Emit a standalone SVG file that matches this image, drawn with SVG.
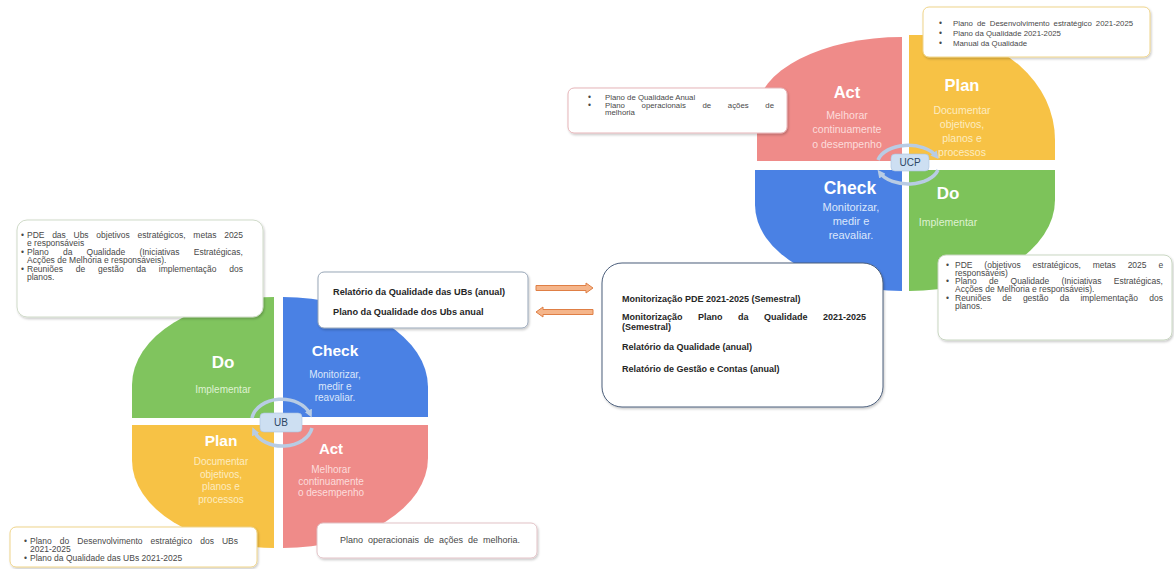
<svg xmlns="http://www.w3.org/2000/svg" width="1174" height="569" viewBox="0 0 1174 569">
<defs>
<style>
.title{font-family:"Liberation Sans",Arial,sans-serif;font-weight:bold;fill:#ffffff;text-anchor:middle}
.desc{font-family:"Liberation Sans",Arial,sans-serif;text-anchor:middle}
.box{fill:#ffffff;stroke-width:1}
.bl{font-family:"Liberation Sans",Arial,sans-serif;font-size:8.5px;fill:#484848}
.bd{font-family:"Liberation Sans",Arial,sans-serif;font-weight:bold;fill:#262626}
.cyc{fill:none;stroke:#b8cce4;stroke-width:3.5}
.lbl{fill:#cddff2;stroke:#aac3df;stroke-width:0.6}
.lt{font-family:"Liberation Sans",Arial,sans-serif;font-size:10px;fill:#2c4664;text-anchor:middle}
.oarr{fill:#f5b58a;stroke:#df7f45;stroke-width:1}
</style>
<filter id="sh" x="-10%" y="-10%" width="125%" height="140%">
<feDropShadow dx="1" dy="1.5" stdDeviation="1.2" flood-color="#000" flood-opacity="0.22"/>
</filter>
<marker id="ah" viewBox="0 0 8 8" refX="4" refY="4" markerWidth="8" markerHeight="8" markerUnits="userSpaceOnUse" orient="auto">
<path d="M0,0 L8,4 L0,8 Z" fill="#b8cce4"/>
</marker>
</defs>
<rect width="1174" height="569" fill="#ffffff"/>

<!-- UCP cycle -->
<g id="ucp-act">
<path d="M902,161 L757,161 L757,112 A145,75 0 0 1 902,37 Z" fill="#ef8b89"/>
<text class="title" x="847" y="98" font-size="16.5">Act</text>
<text class="desc" font-size="10.5" fill="#fcdcdb"><tspan x="847" y="119">Melhorar</tspan><tspan x="847" y="133">continuamente</tspan><tspan x="847" y="148">o desempenho</tspan></text>
</g>
<g id="ucp-plan">
<path d="M909,160 L909,35 L935,35 A120,105 0 0 1 1055,140 L1055,160 Z" fill="#f7c245"/>
<text class="title" x="962" y="91" font-size="16.5">Plan</text>
<text class="desc" font-size="10.5" fill="#fdecc0"><tspan x="962" y="114">Documentar</tspan><tspan x="962" y="128">objetivos,</tspan><tspan x="962" y="142">planos e</tspan><tspan x="962" y="156">processos</tspan></text>
</g>
<g id="ucp-check">
<path d="M902,170 L755,170 L755,205 A147,86 0 0 0 902,291 Z" fill="#4a81e4"/>
<text class="title" x="850" y="194" font-size="17.5">Check</text>
<text class="desc" font-size="11" fill="#dce7fb"><tspan x="851" y="211">Monitorizar,</tspan><tspan x="851" y="225">medir e</tspan><tspan x="851" y="239">reavaliar.</tspan></text>
</g>
<g id="ucp-do">
<path d="M909,170 L1055,170 L1055,200 A146,91 0 0 1 909,291 Z" fill="#7dc35a"/>
<text class="title" x="948" y="199" font-size="17">Do</text>
<text class="desc" font-size="10.5" fill="#dff2d2"><tspan x="948" y="226">Implementar</tspan></text>
</g>
<g id="ucp-center">
<path class="cyc" d="M878,160 A31,19 0 0 1 936,156" marker-end="url(#ah)"/>
<path class="cyc" d="M938,170 A31,19 0 0 1 880,173" marker-end="url(#ah)"/>
<rect class="lbl" x="891" y="154" width="38" height="17" rx="4"/>
<text class="lt" x="910" y="166">UCP</text>
</g>

<!-- UB cycle -->
<g id="ub-do">
<path d="M274,418 L132,418 L132,385 A142,88 0 0 1 274,297 Z" fill="#80c45e"/>
<text class="title" x="223" y="368" font-size="17">Do</text>
<text class="desc" font-size="10" fill="#dff2d2"><tspan x="223" y="393">Implementar</tspan></text>
</g>
<g id="ub-check">
<path d="M283,297 A145,90 0 0 1 428,387 L428,417 L283,417 Z" fill="#4a81e4"/>
<text class="title" x="335" y="356" font-size="15.5">Check</text>
<text class="desc" font-size="10" fill="#dce7fb"><tspan x="335" y="378">Monitorizar,</tspan><tspan x="335" y="390">medir e</tspan><tspan x="335" y="401">reavaliar.</tspan></text>
</g>
<g id="ub-plan">
<path d="M274,425 L132,425 L132,460 A142,88 0 0 0 274,548 Z" fill="#f7c245"/>
<text class="title" x="221" y="446" font-size="15.5">Plan</text>
<text class="desc" font-size="10" fill="#fdecc0"><tspan x="221" y="465">Documentar</tspan><tspan x="221" y="478">objetivos,</tspan><tspan x="221" y="490">planos e</tspan><tspan x="221" y="503">processos</tspan></text>
</g>
<g id="ub-act">
<path d="M283,425 L428,425 L428,458 A145,90 0 0 1 283,548 Z" fill="#ef8b89"/>
<text class="title" x="331" y="454" font-size="15">Act</text>
<text class="desc" font-size="10" fill="#fcdcdb"><tspan x="331" y="473">Melhorar</tspan><tspan x="331" y="485">continuamente</tspan><tspan x="331" y="496">o desempenho</tspan></text>
</g>
<g id="ub-center">
<path class="cyc" d="M252,418 A30,22 0 0 1 310,414" marker-end="url(#ah)"/>
<path class="cyc" d="M312,428 A30,22 0 0 1 254,431" marker-end="url(#ah)"/>
<rect class="lbl" x="260" y="413" width="42" height="19" rx="4"/>
<text class="lt" x="281" y="426">UB</text>
</g>

<!-- Boxes -->
<g id="box-ucp-plan">
<rect class="box" x="923" y="7" width="227" height="50" rx="6" stroke="#efd48a" filter="url(#sh)"/>
<text class="bl" font-size="7"><tspan x="939" y="25.5">•</tspan><tspan x="939" y="35.5">•</tspan><tspan x="939" y="45.5">•</tspan></text>
<text class="bl" style="font-size:7.8px"><tspan x="953" y="25.5" word-spacing="1.9">Plano de Desenvolvimento estratégico 2021-2025</tspan><tspan x="953" y="35.5">Plano da Qualidade 2021-2025</tspan><tspan x="953" y="45.5">Manual da Qualidade</tspan></text>
</g>
<g id="box-ucp-act">
<rect class="box" x="568" y="88" width="219" height="45" rx="6" stroke="#e6b5b9" filter="url(#sh)"/>
<text class="bl" font-size="7"><tspan x="588" y="99.5">•</tspan><tspan x="588" y="107.5">•</tspan></text>
<text class="bl" style="font-size:7.8px" x="605" y="99.5">Plano de Qualidade Anual</text>
<text class="bl" style="font-size:7.8px" x="605" y="107.5" word-spacing="14.5">Plano operacionais de ações de</text>
<text class="bl" style="font-size:7.8px" x="605" y="115">melhoria</text>
</g>
<g id="box-ucp-do">
<rect class="box" x="938" y="255" width="234" height="85" rx="8" stroke="#c9d7c2" filter="url(#sh)"/>
<text class="bl"><tspan x="946" y="267.5">•</tspan><tspan x="946" y="284">•</tspan><tspan x="946" y="301">•</tspan></text>
<text class="bl" x="955" y="267.5" word-spacing="9.5">PDE (objetivos estratégicos, metas 2025 e</text>
<text class="bl" x="955" y="275.5">responsáveis)</text>
<text class="bl" x="955" y="284" word-spacing="9.8">Plano de Qualidade (Iniciativas Estratégicas,</text>
<text class="bl" x="955" y="292">Acções de Melhoria e responsáveis).</text>
<text class="bl" x="955" y="301" word-spacing="8.9">Reuniões de gestão da implementação dos</text>
<text class="bl" x="955" y="309">planos.</text>
</g>
<g id="box-ub-do">
<rect class="box" x="17" y="220" width="246" height="97" rx="10" stroke="#d0dbc9" filter="url(#sh)"/>
<text class="bl"><tspan x="21" y="237.5">•</tspan><tspan x="21" y="255">•</tspan><tspan x="21" y="272">•</tspan></text>
<text class="bl" x="27" y="237.5" word-spacing="5.3">PDE das Ubs objetivos estratégicos, metas 2025</text>
<text class="bl" x="27" y="246">e responsáveis</text>
<text class="bl" x="27" y="255" word-spacing="11.8">Plano da Qualidade (Iniciativas Estratégicas,</text>
<text class="bl" x="27" y="263">Acções de Melhoria e responsáveis).</text>
<text class="bl" x="27" y="272" word-spacing="10.5">Reuniões de gestão da implementação dos</text>
<text class="bl" x="27" y="280">planos.</text>
</g>
<g id="box-ub-check">
<rect class="box" x="318" y="272" width="210" height="56" rx="6" stroke="#99a7b8" filter="url(#sh)"/>
<text class="bd" font-size="9.2" x="333" y="294.5">Relatório da Qualidade das UBs (anual)</text>
<text class="bd" font-size="9.2" x="333" y="315">Plano da Qualidade dos Ubs anual</text>
</g>
<g id="box-ucp-check">
<rect class="box" x="602" y="263" width="281" height="144" rx="20" stroke="#4b5e7b" stroke-width="1.5" filter="url(#sh)"/>
<text class="bd" font-size="9" x="622" y="302">Monitorização PDE 2021-2025 (Semestral)</text>
<text class="bd" font-size="9" x="622" y="320" word-spacing="13">Monitorização Plano da Qualidade 2021-2025</text>
<text class="bd" font-size="9" x="622" y="330">(Semestral)</text>
<text class="bd" font-size="9" x="622" y="350">Relatório da Qualidade (anual)</text>
<text class="bd" font-size="9" x="622" y="372">Relatório de Gestão e Contas (anual)</text>
</g>
<g id="box-ub-plan">
<rect class="box" x="10" y="527" width="247" height="40" rx="6" stroke="#efd48a" filter="url(#sh)"/>
<text class="bl"><tspan x="24" y="544">•</tspan><tspan x="24" y="561">•</tspan></text>
<text class="bl" x="30" y="544" word-spacing="5.7">Plano do Desenvolvimento estratégico dos UBs</text>
<text class="bl" x="30" y="552">2021-2025</text>
<text class="bl" x="30" y="561">Plano da Qualidade das UBs 2021-2025</text>
</g>
<g id="box-ub-act">
<rect class="box" x="317" y="523" width="220" height="35" rx="6" stroke="#e2c2c6" filter="url(#sh)"/>
<text class="bl" style="font-size:9px" x="340" y="543" word-spacing="2.5">Plano operacionais de ações de melhoria.</text>
</g>

<!-- Connectors -->
<g id="connectors">
<path class="oarr" d="M536,285.5 L586,285.5 L586,283 L593,288 L586,293 L586,290.5 L536,290.5 Z"/>
<path class="oarr" d="M593,309.5 L543,309.5 L543,307 L536,312 L543,317 L543,314.5 L593,314.5 Z"/>
</g>
</svg>
